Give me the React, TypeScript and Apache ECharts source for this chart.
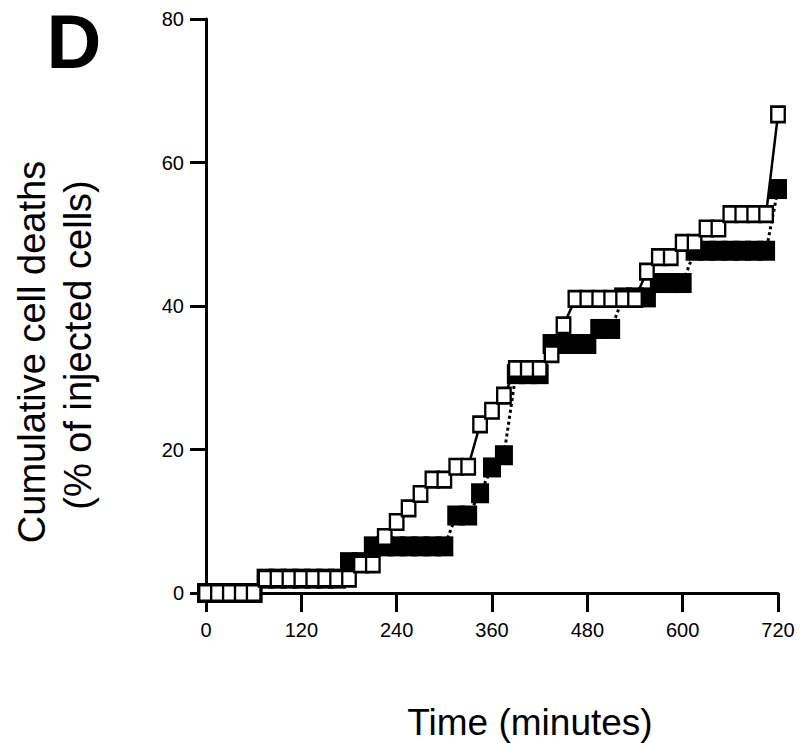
import React, { useEffect, useRef } from "react";
import * as echarts from "echarts";

// Time points (minutes)
const times = [
  0, 15, 30, 45, 60, 75, 90, 105, 120, 135, 150, 165, 180, 195, 210, 225, 240,
  255, 270, 285, 300, 315, 330, 345, 360, 375, 390, 405, 420, 435, 450, 465,
  480, 495, 510, 525, 540, 555, 570, 585, 600, 615, 630, 645, 660, 675, 690,
  705, 720,
];

// Open squares (solid line)
const openDeaths = [
  0, 0, 0, 0, 0, 2, 2, 2, 2, 2, 2, 2, 2, 4, 4, 7.8, 9.9, 11.8, 13.8, 15.8,
  15.8, 17.6, 17.6, 23.5, 25.4, 27.5, 31.2, 31.2, 31.2, 33.3, 37.3, 41, 41, 41,
  41, 41, 41, 44.8, 46.8, 46.8, 48.8, 48.8, 50.8, 50.8, 52.8, 52.8, 52.8, 52.8,
  66.7,
];

// Filled squares (dotted line)
const filledDeaths = [
  0, 0, 0, 0, 0, 2, 2, 2, 2, 2, 2, 2, 4.3, 4.3, 6.5, 6.5, 6.5, 6.5, 6.5, 6.5,
  6.5, 10.8, 10.8, 13.9, 17.5, 19.2, 30.5, 30.5, 30.5, 34.7, 34.7, 34.7, 34.7,
  36.8, 36.8, 41.2, 41.2, 41.2, 43.2, 43.2, 43.2, 47.7, 47.7, 47.7, 47.7, 47.7,
  47.7, 47.7, 56.3,
];

const xTickInterval = 120;
const yTickInterval = 20;

const FONT = "'Liberation Sans', Arial, Helvetica, sans-serif";

export default function App() {
  const ref = useRef<HTMLDivElement>(null);

  useEffect(() => {
    if (!ref.current) return;
    const chart = echarts.init(ref.current, null, { renderer: "svg" });
    const openData = times.map((t, i) => [t, openDeaths[i]]);
    const filledData = times.map((t, i) => [t, filledDeaths[i]]);

    chart.setOption({
      animation: false,
      backgroundColor: "#ffffff",
      grid: {
        left: 206,
        right: 22,
        top: 19,
        bottom: 155,
        containLabel: false,
        outerBoundsMode: "none",
      },
      xAxis: {
        type: "value",
        min: 0,
        max: 720,
        interval: xTickInterval,
        axisLine: {
          show: true,
          onZero: false,
          lineStyle: { color: "#000", width: 3 },
        },
        axisTick: {
          show: true,
          length: 19,
          lineStyle: { color: "#000", width: 3 },
        },
        axisLabel: {
          color: "#000",
          fontSize: 20,
          fontFamily: FONT,
          margin: 27,
        },
        splitLine: { show: false },
      },
      yAxis: {
        type: "value",
        min: 0,
        max: 80,
        interval: yTickInterval,
        axisLine: {
          show: true,
          onZero: false,
          lineStyle: { color: "#000", width: 3 },
        },
        axisTick: {
          show: true,
          length: 16,
          lineStyle: { color: "#000", width: 3 },
        },
        axisLabel: {
          color: "#000",
          fontSize: 20,
          fontFamily: FONT,
          margin: 22,
        },
        splitLine: { show: false },
      },
      series: [
        {
          type: "line",
          data: filledData,
          symbol: "rect",
          symbolSize: [18, 20],
          showAllSymbol: true,
          itemStyle: { color: "#000", borderWidth: 0 },
          lineStyle: { color: "#000", width: 3, type: "dotted" },
          z: 2,
        },
        {
          type: "line",
          data: openData,
          symbol: "rect",
          symbolSize: [13.5, 15.5],
          showAllSymbol: true,
          itemStyle: { color: "#fff", borderColor: "#000", borderWidth: 2.5 },
          lineStyle: { color: "#000", width: 2.5, type: "solid" },
          z: 3,
        },
      ],
      graphic: [
        {
          type: "text",
          x: 74,
          y: 41,
          style: {
            text: "D",
            fontSize: 76,
            fontWeight: "bold",
            fontFamily: FONT,
            fill: "#000",
            align: "center",
            verticalAlign: "middle",
          },
        },
        {
          type: "text",
          x: 32,
          y: 352,
          rotation: Math.PI / 2,
          style: {
            text: "Cumulative cell deaths",
            fontSize: 38,
            fontFamily: FONT,
            fill: "#000",
            align: "center",
            verticalAlign: "middle",
          },
        },
        {
          type: "text",
          x: 78,
          y: 345,
          rotation: Math.PI / 2,
          style: {
            text: "(% of injected cells)",
            fontSize: 38,
            fontFamily: FONT,
            fill: "#000",
            align: "center",
            verticalAlign: "middle",
          },
        },
        {
          type: "text",
          x: 530,
          y: 722,
          style: {
            text: "Time (minutes)",
            fontSize: 37,
            fontFamily: FONT,
            fill: "#000",
            align: "center",
            verticalAlign: "middle",
          },
        },
      ],
    });

    return () => chart.dispose();
  }, []);

  return (
    <div
      ref={ref}
      style={{ position: "fixed", left: 0, top: 0, width: 800, height: 748 }}
    />
  );
}
